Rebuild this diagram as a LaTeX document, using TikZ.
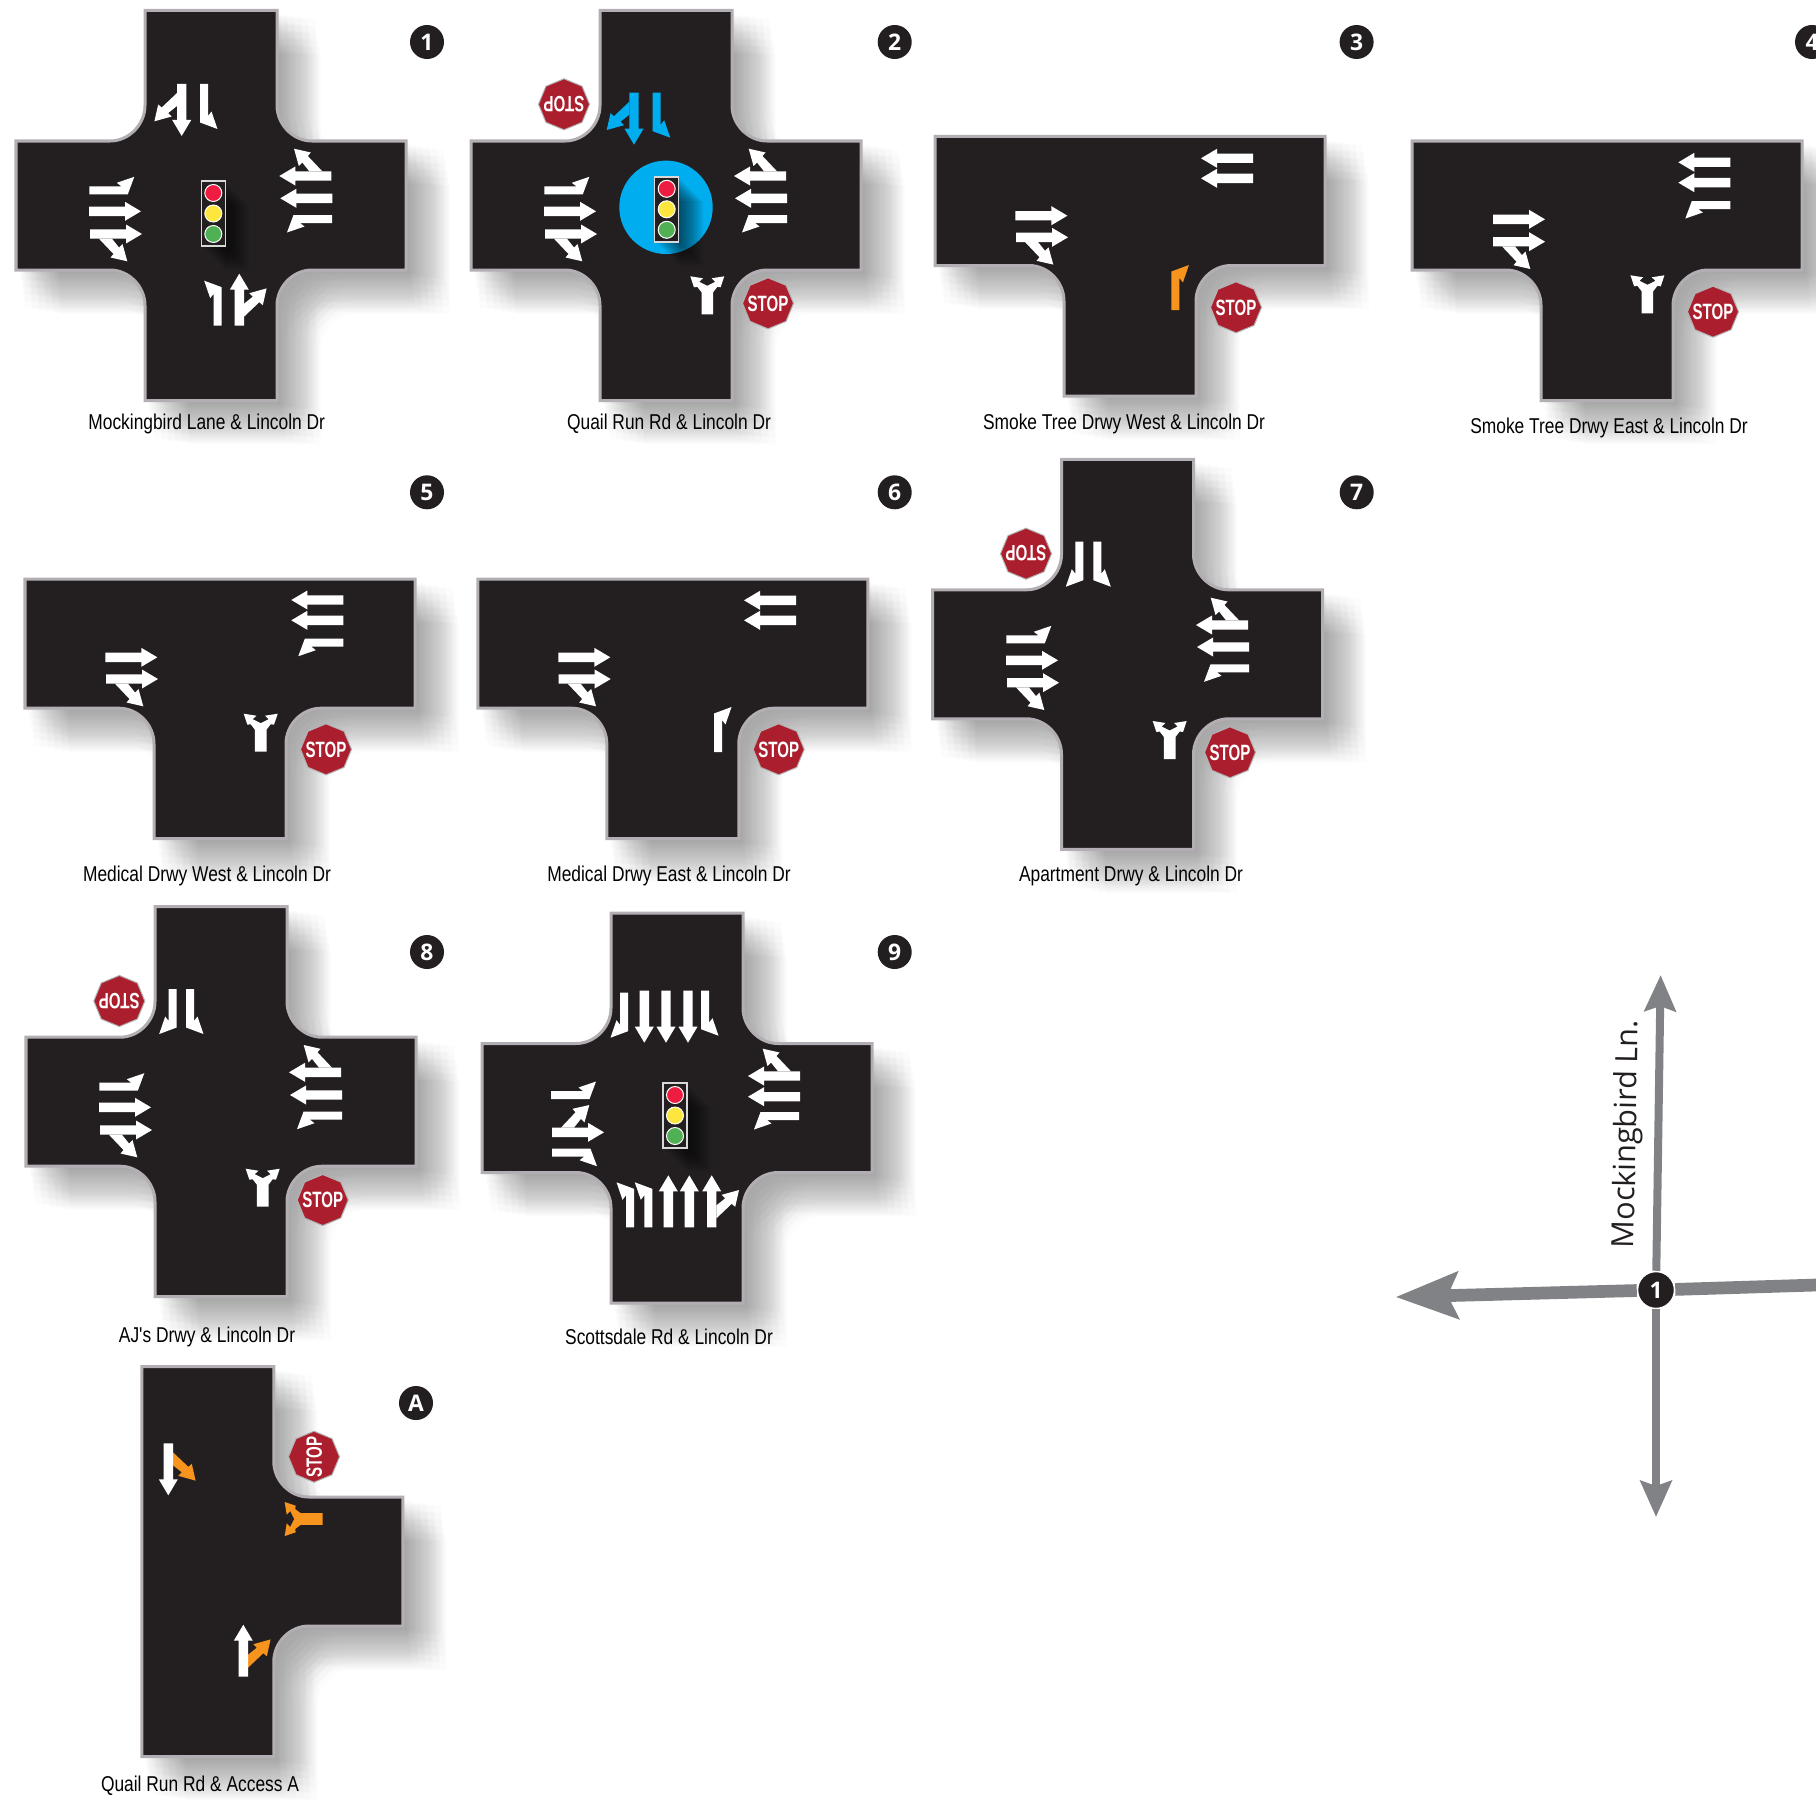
\documentclass[tikz,border=0pt]{standalone}
\usepackage{fontspec}
\usepackage{xcolor}
\usetikzlibrary{arrows.meta,shapes.geometric}
\newfontfamily\capfont[FakeStretch=0.81]{Liberation Sans}
\newfontfamily\stopfont[FakeStretch=0.68]{Liberation Sans}
\newfontfamily\badgefont{Open Sans}
\definecolor{RoadBlack}{HTML}{231F20}
\definecolor{RoadEdge}{HTML}{B3AEB3}
\definecolor{StopRed}{HTML}{AB1E2D}
\definecolor{LaneBlue}{HTML}{00AEEF}
\definecolor{LaneOrange}{HTML}{F7941D}
\definecolor{AxisGray}{HTML}{808285}
\definecolor{LampRed}{HTML}{ED1C40}
\definecolor{LampYellow}{HTML}{FDE73F}
\definecolor{LampGreen}{HTML}{4FB154}
\tikzset{
  crosspath/.style={insert path={(-66,-195) -- (66,-195) -- (66,-100) .. controls (66,-81) and (82,-64.5) .. (101,-64.5)
    -- (195,-64.5) -- (195,64.5) -- (101,64.5) .. controls (82,64.5) and (66,81) .. (66,100)
    -- (66,195) -- (-66,195) -- (-66,100) .. controls (-66,81) and (-82,64.5) .. (-101,64.5)
    -- (-195,64.5) -- (-195,-64.5) -- (-101,-64.5) .. controls (-82,-64.5) and (-66,-81) .. (-66,-100) -- cycle}},
  teepath/.style={insert path={(-195,-64.5) -- (195,-64.5) -- (195,64.5) -- (101,64.5) .. controls (82,64.5) and (66,81) .. (66,100)
    -- (66,195) -- (-66,195) -- (-66,100) .. controls (-66,81) and (-82,64.5) .. (-101,64.5)
    -- (-195,64.5) -- cycle}},
  sidepath/.style={insert path={(-66,-195) -- (66,-195) -- (66,-100) .. controls (66,-81) and (82,-64.5) .. (101,-64.5)
    -- (195,-64.5) -- (195,64.5) -- (101,64.5) .. controls (82,64.5) and (66,81) .. (66,100)
    -- (66,195) -- (-66,195) -- cycle}},
  roadfill/.style={fill=RoadBlack,draw=RoadEdge,line width=0.03cm,line join=miter},
  roadshade/.style={fill=black,opacity=0.0125},
  thrupath/.style={insert path={(-4.7,0) -- (4.7,0) -- (4.7,-36) -- (9.5,-36) -- (0,-52) -- (-9.5,-36) -- (-4.7,-36) -- cycle}},
  branchpath/.style={insert path={(4.7,-9) -- (20,-23.5) -- (23.5,-20.5) -- (27.3,-37.3) -- (10,-32.5) -- (13.5,-29) -- (4.7,-22) -- cycle}},
  turnpath/.style={insert path={(-4,0) -- (4,0) -- (4,-38.5) -- (-13.5,-45) -- (-7.5,-27.5) -- (-4,-32) -- cycle}},
  forkpath/.style={insert path={(-5.8,0) -- (5.8,0) -- (5.8,-22) -- (10,-27.5) -- (13.3,-27) -- (17,-38) -- (4.3,-36) -- (8,-32.5)
    -- (0,-28.5) -- (-8,-32.5) -- (-4.3,-36) -- (-17,-38) -- (-13.3,-27) -- (-10,-27.5) -- (-5.8,-22) -- cycle}},
  thru/.pic={\fill[thrupath];},
  branchL/.pic={\fill[xscale=-1,branchpath];},
  branchR/.pic={\fill[branchpath];},
  thruR/.pic={\fill[thrupath]; \fill[branchpath];},
  thruL/.pic={\fill[thrupath]; \fill[xscale=-1,branchpath];},
  turnL/.pic={\fill[turnpath];},
  turnR/.pic={\fill[xscale=-1,turnpath];},
  fork/.pic={\fill[forkpath];},
  signal/.pic={
    \foreach \k in {2,4,...,24}
      \fill[black,opacity=0.06] (-12+\k,-32.5+\k) rectangle (12+\k,32.5+\k);
    \filldraw[fill=RoadBlack,draw=white!85!black,line width=0.015cm] (-12,-32.5) rectangle (12,32.5);
    \filldraw[fill=LampRed,draw=white,line width=0.01cm] (0,-20.5) circle (8.5);
    \filldraw[fill=LampYellow,draw=white,line width=0.01cm] (0,0) circle (8.5);
    \filldraw[fill=LampGreen,draw=white,line width=0.01cm] (0,20.5) circle (8.5);
  },
  lanemark/.style={white},
  toS/.style={rotate=180},
  toW/.style={rotate=90},
  toE/.style={rotate=-90},
  stopsign/.style={regular polygon,regular polygon sides=8,shape border rotate=22.5,minimum size=0.51cm,inner sep=0pt,
    fill=StopRed,draw=white!70!black,line width=0.01cm,text=white,font=\stopfont\bfseries\fontsize{6.3pt}{7pt}\selectfont},
  badge/.style={circle,fill=RoadBlack,minimum size=0.34cm,inner sep=0pt,text=white,font=\badgefont\bfseries\fontsize{6.5pt}{7pt}\selectfont},
  caption/.style={inner sep=0pt,text=black,font=\capfont\fontsize{6.1pt}{7pt}\selectfont},
  mainroad/.style={draw=AxisGray,line width=#1},
}
\newcommand{\stoptext}{\makebox[0pt]{\raisebox{-0.36em}[0pt][0pt]{STOP}}}
\newcommand{\roadblock}[3]{%
  \begin{scope}[shift={(#2,#3)}]
    \foreach \i in {0,...,5}{
      \foreach \j in {0,...,5}{
        \fill[roadshade,shift={(3+7*\i+1.17*\j,3+7*\j+1.17*\i)},#1];
      }
    }
    \draw[roadfill,#1];
  \end{scope}}

\begin{document}
\begin{tikzpicture}[x=0.01cm,y=-0.01cm]
  \useasboundingbox (0,0) rectangle (1816,1800);
  \clip (0,0) rectangle (1816,1800);

  % --- 1: Mockingbird ---
  \roadblock{crosspath}{211}{205.5}
  \pic[lanemark,toS] at (181.7,84) {thruR};
  \pic[lanemark,toS] at (204,84) {turnL};
  \pic[lanemark] at (217.7,325.7) {turnL};
  \pic[lanemark] at (239.3,325.7) {thruR};
  \pic[lanemark,toW] at (331.3,176) {thruR};
  \pic[lanemark,toW] at (332.3,198.3) {thru};
  \pic[lanemark,toW] at (332,219) {turnL};
  \pic[lanemark,toE] at (89.3,190.3) {turnL};
  \pic[lanemark,toE] at (89,211.3) {thru};
  \pic[lanemark,toE] at (90,234) {thruR};
  \pic at (213.3,213.5) {signal};
  \node[badge] (badge1) at (427,42) {1};
  \node[caption] (cap1) at (206.7,424) {Mockingbird Lane \& Lincoln Dr};

  % --- 2: Quail Run ---
  \roadblock{crosspath}{666}{205.5}
  \fill[LaneBlue] (666,207.3) circle (46.7);
  \pic[LaneBlue,toS] at (634,92.7) {thruR};
  \pic[LaneBlue,toS] at (656.7,92.7) {turnL};
  \pic[lanemark] at (707.3,314.3) {fork};
  \pic[lanemark,toW] at (786,176) {thruR};
  \pic[lanemark,toW] at (787,198.3) {thru};
  \pic[lanemark,toW] at (787,219) {turnL};
  \pic[lanemark,toE] at (544.3,190.3) {turnL};
  \pic[lanemark,toE] at (544,211.3) {thru};
  \pic[lanemark,toE] at (545,234) {thruR};
  \pic at (666.7,209.3) {signal};
  \node[stopsign,rotate=180] (stop2n) at (564,104.3) {\stoptext};
  \node[stopsign] (stop2s) at (768,303.3) {\stoptext};
  \node[badge] (badge2) at (894.7,42) {2};
  \node[caption] (cap2) at (669,424) {Quail Run Rd \& Lincoln Dr};

  % --- 3: Smoke Tree West ---
  \roadblock{teepath}{1130}{201}
  \pic[lanemark,toW] at (1253,158.3) {thru};
  \pic[lanemark,toW] at (1253,178.3) {thru};
  \pic[lanemark,toE] at (1015.4,215.7) {thru};
  \pic[lanemark,toE] at (1016,237.3) {thruR};
  \pic[LaneOrange] at (1175.4,310) {turnR};
  \node[stopsign] (stop3) at (1236,307.3) {\stoptext};
  \node[badge] (badge3) at (1356.6,42) {3};
  \node[caption] (cap3) at (1124,424) {Smoke Tree Drwy West \& Lincoln Dr};

  % --- 4: Smoke Tree East ---
  \roadblock{teepath}{1607}{205.5}
  \pic[lanemark,toW] at (1730.3,162.3) {thru};
  \pic[lanemark,toW] at (1730.3,182.7) {thru};
  \pic[lanemark,toW] at (1730.3,205) {turnL};
  \pic[lanemark,toE] at (1493,219.3) {thru};
  \pic[lanemark,toE] at (1493,241.7) {thruR};
  \pic[lanemark] at (1647.4,313.3) {fork};
  \node[stopsign] (stop4) at (1713,311.7) {\stoptext};
  \node[badge] (badge4) at (1812,42) {4};
  \node[caption] (cap4) at (1609,427.5) {Smoke Tree Drwy East \& Lincoln Dr};

  % --- 5: Medical West ---
  \roadblock{teepath}{220}{643.7}
  \pic[lanemark,toW] at (343.3,600) {thru};
  \pic[lanemark,toW] at (343.3,620.3) {thru};
  \pic[lanemark,toW] at (343.3,642.7) {turnL};
  \pic[lanemark,toE] at (105.3,657.3) {thru};
  \pic[lanemark,toE] at (106,679) {thruR};
  \pic[lanemark] at (260.7,751.7) {fork};
  \node[stopsign] (stop5) at (326,749.3) {\stoptext};
  \node[badge] (badge5) at (427,492.3) {5};
  \node[caption] (cap5) at (207,876) {Medical Drwy West \& Lincoln Dr};

  % --- 6: Medical East ---
  \roadblock{teepath}{672.8}{643.7}
  \pic[lanemark,toW] at (796,600.3) {thru};
  \pic[lanemark,toW] at (796,620.3) {thru};
  \pic[lanemark,toE] at (558.3,657.3) {thru};
  \pic[lanemark,toE] at (558.7,679) {thruR};
  \pic[lanemark] at (718,752) {turnR};
  \node[stopsign] (stop6) at (778.7,749.3) {\stoptext};
  \node[badge] (badge6) at (894.7,492.3) {6};
  \node[caption] (cap6) at (669,876) {Medical Drwy East \& Lincoln Dr};

  % --- 7: Apartment ---
  \roadblock{crosspath}{1127.5}{654.3}
  \pic[lanemark,toS] at (1079.3,541.7) {turnR};
  \pic[lanemark,toS] at (1097.3,541.7) {turnL};
  \pic[lanemark,toW] at (1248,625) {thruR};
  \pic[lanemark,toW] at (1249,647) {thru};
  \pic[lanemark,toW] at (1249,668.3) {turnL};
  \pic[lanemark,toE] at (1006.3,639.3) {turnL};
  \pic[lanemark,toE] at (1006,660.3) {thru};
  \pic[lanemark,toE] at (1007,682.7) {thruR};
  \pic[lanemark] at (1169.7,759) {fork};
  \node[stopsign,rotate=180] (stop7n) at (1026,553.7) {\stoptext};
  \node[stopsign] (stop7s) at (1230,752.3) {\stoptext};
  \node[badge] (badge7) at (1356.7,492.3) {7};
  \node[caption] (cap7) at (1131,876) {Apartment Drwy \& Lincoln Dr};

  % --- 8: AJ's ---
  \roadblock{crosspath}{221}{1101.7}
  \pic[lanemark,toS] at (172.7,989) {turnR};
  \pic[lanemark,toS] at (190,989) {turnL};
  \pic[lanemark,toW] at (341,1072.3) {thruR};
  \pic[lanemark,toW] at (342,1095) {thru};
  \pic[lanemark,toW] at (342,1115.7) {turnL};
  \pic[lanemark,toE] at (99.3,1086.7) {turnL};
  \pic[lanemark,toE] at (99,1107.3) {thru};
  \pic[lanemark,toE] at (100,1130) {thruR};
  \pic[lanemark] at (262.7,1206.7) {fork};
  \node[stopsign,rotate=180] (stop8n) at (119.3,1001) {\stoptext};
  \node[stopsign] (stop8s) at (322.7,1200) {\stoptext};
  \node[badge] (badge8) at (427,952) {8};
  \node[caption] (cap8) at (207,1337) {AJ's Drwy \& Lincoln Dr};

  % --- 9: Scottsdale ---
  \roadblock{crosspath}{677}{1108}
  \pic[lanemark,toS] at (624,992.7) {turnR};
  \pic[lanemark,toS] at (644.3,990.7) {thru};
  \pic[lanemark,toS] at (666,990.7) {thru};
  \pic[lanemark,toS] at (688,990.7) {thru};
  \pic[lanemark,toS] at (705,990.7) {turnL};
  \pic[lanemark,toW] at (800,1076) {thruR};
  \pic[lanemark,toW] at (800,1096.7) {thru};
  \pic[lanemark,toW] at (799,1116) {turnL};
  \pic[lanemark,toE] at (551,1095) {turnL};
  \pic[lanemark,toE] at (552,1132.3) {thruL};
  \pic[lanemark,toE] at (552,1152.7) {turnR};
  \pic[lanemark] at (630,1227.3) {turnL};
  \pic[lanemark] at (648.3,1227.3) {turnL};
  \pic[lanemark] at (668.3,1227.3) {thru};
  \pic[lanemark] at (689.3,1227.3) {thru};
  \pic[lanemark] at (711.7,1227.3) {thruR};
  \pic at (675,1115.5) {signal};
  \node[badge] (badge9) at (894.7,952) {9};
  \node[caption] (cap9) at (669,1337) {Scottsdale Rd \& Lincoln Dr};

  % --- A: Access A ---
  \roadblock{sidepath}{207.8}{1561.5}
  \pic[LaneOrange,toS] at (168.3,1443.3) {branchL};
  \pic[lanemark,toS] at (168.3,1443.3) {thru};
  \pic[LaneOrange] at (243.3,1676.7) {branchR};
  \pic[lanemark] at (243.3,1676.7) {thru};
  \pic[LaneOrange,toW] at (322.7,1519) {fork};
  \node[stopsign,rotate=90] (stopA) at (314,1456.7) {\stoptext};
  \node[badge] (badgeA) at (416,1403) {A};
  \node[caption] (capA) at (200,1786) {Quail Run Rd \& Access A};

  % --- map key ---
  \node[badge,draw=white,line width=0.015cm,minimum size=0.37cm] (hub) at (1656,1290) {1};
  \coordinate (endN) at (1660.6,975);
  \coordinate (endS) at (1656,1517);
  \coordinate (endW) at (1395.5,1297);
  \coordinate (endE) at (1816,1285);
  \draw[mainroad=0.08cm,-{Stealth[length=0.36cm,width=0.31cm,inset=0.05cm]}] (hub) -- (endN);
  \draw[mainroad=0.08cm,-{Stealth[length=0.36cm,width=0.31cm,inset=0.05cm]}] (hub) -- (endS);
  \draw[mainroad=0.127cm,-{Stealth[length=0.62cm,width=0.46cm,inset=0.1cm]}] (hub) -- (endW);
  \draw[mainroad=0.127cm] (hub) -- (endE);
  \node[rotate=89,inner sep=0pt,text=RoadBlack,font=\badgefont\fontsize{8.7pt}{10pt}\selectfont] (keylabel) at (1628,1134) {Mockingbird Ln.};
\end{tikzpicture}
\end{document}
